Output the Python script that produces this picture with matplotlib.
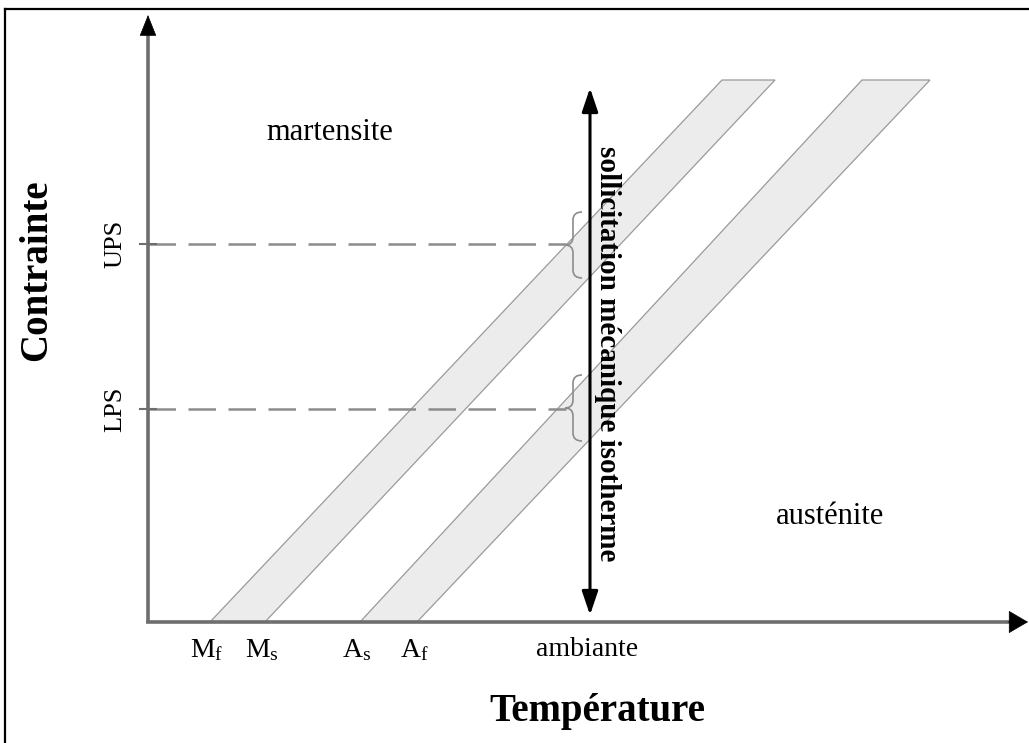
import matplotlib
matplotlib.use('Agg')
import matplotlib.pyplot as plt
from matplotlib.path import Path
from matplotlib.patches import PathPatch, Polygon
from matplotlib.lines import Line2D

plt.rcParams['font.family'] = ['Liberation Serif', 'DejaVu Serif']
plt.rcParams['mathtext.fontset'] = 'custom'
plt.rcParams['mathtext.rm'] = 'Liberation Serif'
plt.rcParams['mathtext.it'] = 'Liberation Serif:italic'

# temperatures on the x axis (same units as the drawing)
temp_labels = [r'M$_\mathrm{f}$', r'M$_\mathrm{s}$', r'A$_\mathrm{s}$', r'A$_\mathrm{f}$', 'ambiante']
temp_values = [62, 117, 212, 269, 442]
# where the bands end at the top
band_top_stress = 542
band_top_x = [574, 627, 714, 782]
# plateau stresses
stress_labels = ['UPS', 'LPS']
stress_values = [378, 213]
# brace extents (low, high) for each plateau
brace_spans = [(344, 410), (181, 247)]
# isothermal loading arrow
load_span = (7, 534)

fig = plt.figure(figsize=(10.29, 7.43), dpi=100)
ax = fig.add_axes([0, 0, 1, 1])
ax.set_xlim(-148, 881)
ax.set_ylim(-121, 622)
ax.axis('off')

grey = '#6e6e6e'

# transformation bands
for i in range(2):
    x0, x1 = temp_values[2 * i], temp_values[2 * i + 1]
    t0, t1 = band_top_x[2 * i], band_top_x[2 * i + 1]
    ax.add_patch(Polygon([(x0, 0), (x1, 0), (t1, band_top_stress), (t0, band_top_stress)],
                         closed=True, facecolor='#ececec', edgecolor='#9a9a9a', lw=0.9, zorder=1))

# dashed lines for UPS / LPS
for s in stress_values:
    ax.plot([0, 418], [s, s], color='#8c8c8c', lw=1.8, ls=(0, (11, 5)), zorder=2)
    ax.plot([-8, 8], [s, s], color=grey, lw=1.5, zorder=3)

# braces
def brace(lo, hi, xt=417, xm=425, xa=434, r=8):
    yc = (lo + hi) / 2
    verts = [(xa, hi), (xm, hi), (xm, hi - r),
             (xm, yc + r),
             (xm, yc), (xt, yc),
             (xm, yc), (xm, yc - r),
             (xm, lo + r),
             (xm, lo), (xa, lo)]
    codes = [Path.MOVETO, Path.CURVE3, Path.CURVE3,
             Path.LINETO,
             Path.CURVE3, Path.CURVE3,
             Path.CURVE3, Path.CURVE3,
             Path.LINETO,
             Path.CURVE3, Path.CURVE3]
    ax.add_patch(PathPatch(Path(verts, codes), facecolor='none', edgecolor='#8c8c8c', lw=1.2, zorder=3))

for lo, hi in brace_spans:
    brace(lo, hi)

# axes
ax.plot([0, 0], [0, 592], color=grey, lw=2.6, zorder=4, solid_capstyle='butt')
ax.plot([-2, 864], [0, 0], color=grey, lw=2.6, zorder=4, solid_capstyle='butt')
ax.annotate('', xy=(0, 607), xytext=(0, 590),
            arrowprops=dict(arrowstyle='-|>,head_length=0.7,head_width=0.28', mutation_scale=20,
                            color='black', lw=0.5, shrinkA=0, shrinkB=0), zorder=5)
ax.annotate('', xy=(880, 0), xytext=(860, 0),
            arrowprops=dict(arrowstyle='-|>,head_length=0.65,head_width=0.38', mutation_scale=20,
                            color='black', lw=0.5, shrinkA=0, shrinkB=0), zorder=5)

# isothermal loading double arrow
ax.annotate('', xy=(temp_values[-1], load_span[1]), xytext=(temp_values[-1], load_span[0]),
            arrowprops=dict(arrowstyle='<|-|>,head_length=0.65,head_width=0.22', mutation_scale=22,
                            color='black', lw=2.2, shrinkA=0, shrinkB=0), zorder=5)

# tick labels
for lab, v in zip(temp_labels, temp_values):
    ax.text(v - 3, -28, lab, ha='center', va='center', fontsize=20)
for lab, s in zip(stress_labels, stress_values):
    ax.text(-33, s, lab, ha='center', va='center', fontsize=19, rotation=90)

ax.text(449, -90, 'Température', ha='center', va='center', fontsize=28, fontweight='bold')
ax.text(-111, 352, 'Contrainte', ha='center', va='center', fontsize=28, fontweight='bold', rotation=90)
ax.text(182, 490, 'martensite', ha='center', va='center', fontsize=22)
ax.text(682, 105, 'austénite', ha='center', va='center', fontsize=22)
ax.text(460, 268, 'sollicitation mécanique isotherme', ha='center', va='center',
        fontsize=21, fontweight='bold', rotation=-90)

# frame around the picture
fig.add_artist(Line2D([5 / 1029, 5 / 1029], [0, 1 - 9 / 743], color='black', lw=1.6))
fig.add_artist(Line2D([5 / 1029, 1], [1 - 9 / 743, 1 - 9 / 743], color='black', lw=1.6))

fig.savefig('out.png', dpi=100, facecolor='white')
